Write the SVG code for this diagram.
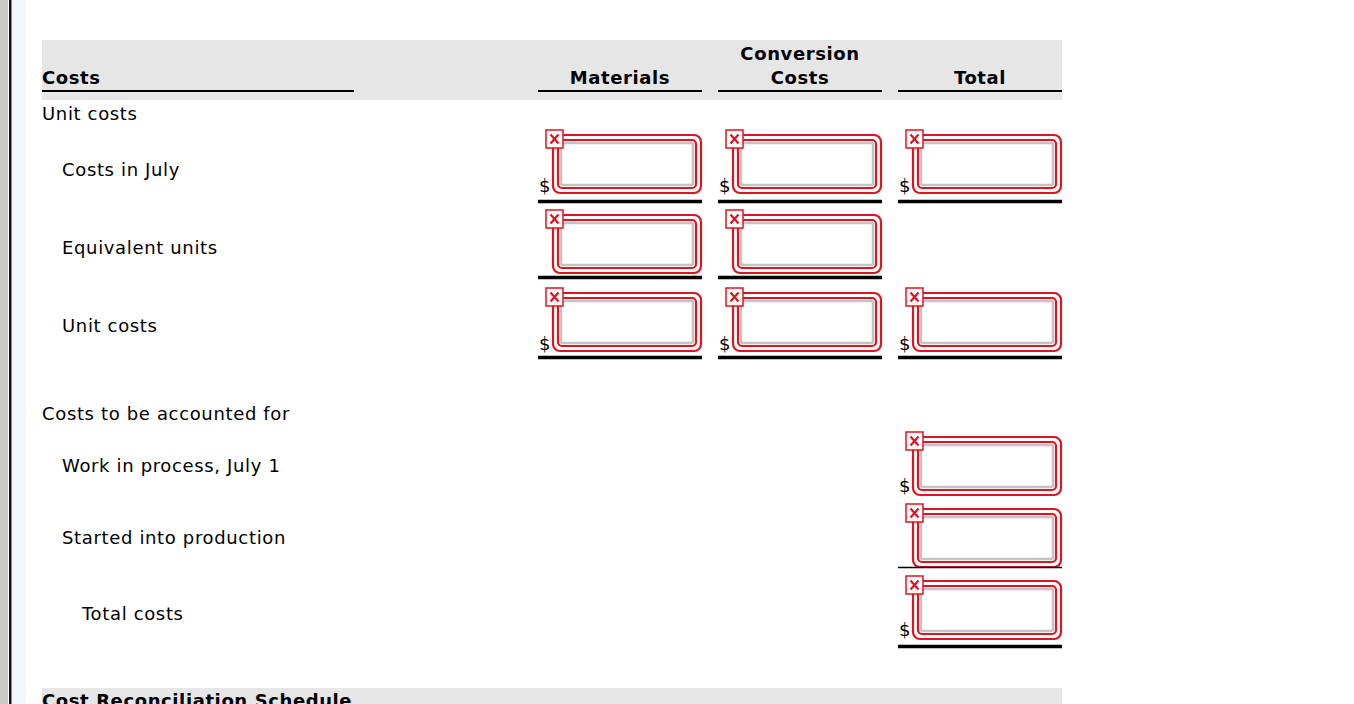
<svg xmlns="http://www.w3.org/2000/svg" xmlns:xlink="http://www.w3.org/1999/xlink" width="1354" height="704" viewBox="0 0 1354 704">
<style>
text{font-family:"DejaVu Sans",Verdana,sans-serif;font-size:18px;fill:#000;letter-spacing:0.65px}
.h{font-weight:bold;letter-spacing:0.6px}
.d{font-size:18px;letter-spacing:0}
.rl{fill:none;stroke:#e0141e;stroke-width:2.2}
.gi{fill:#fff;stroke:#c4c4c4;stroke-width:2.5}
</style>
<defs>
<g id="box">
<rect class="rl" x="15" y="0" width="148" height="58" rx="7"/>
<rect class="rl" x="20" y="5" width="138" height="48" rx="4"/>
<rect class="gi" x="23" y="8" width="132" height="42" rx="2"/>
<rect x="8" y="-5" width="17" height="18" fill="#fff" stroke="#e0141e" stroke-width="1.5"/>
<path d="M12.5 -0.5 L20.5 8.5 M20.5 -0.5 L12.5 8.5" stroke="#e0141e" stroke-width="2.2"/>
</g>
</defs>
<rect width="1354" height="704" fill="#fff"/>
<rect x="0" y="0" width="8" height="704" fill="#c8c8c8"/>
<rect x="9" y="0" width="2.5" height="704" fill="#111"/>
<rect x="12" y="0" width="14" height="704" fill="#f4f7fb"/>
<rect x="42" y="40" width="1020" height="60" fill="#e6e6e6"/>
<g id="headers">
<text class="h" x="42" y="84">Costs</text>
<text class="h" x="620" y="84" text-anchor="middle">Materials</text>
<text class="h" x="800" y="60" text-anchor="middle">Conversion</text>
<text class="h" x="800" y="84" text-anchor="middle">Costs</text>
<text class="h" x="980" y="84" text-anchor="middle">Total</text>
<path d="M42 91H354M538 91H702M718 91H882M898 91H1062" stroke="#000" stroke-width="2"/>
</g>
<g id="labels">
<text x="42" y="120">Unit costs</text>
<text x="62" y="176">Costs in July</text>
<text x="62" y="254">Equivalent units</text>
<text x="62" y="332">Unit costs</text>
<text x="42" y="420">Costs to be accounted for</text>
<text x="62" y="472">Work in process, July 1</text>
<text x="62" y="544">Started into production</text>
<text x="82" y="620">Total costs</text>
</g>
<g id="r1m"><use xlink:href="#box" x="538" y="135"/><text class="d" x="539" y="192">$</text></g>
<g id="r1c"><use xlink:href="#box" x="718" y="135"/><text class="d" x="719" y="192">$</text></g>
<g id="r1t"><use xlink:href="#box" x="898" y="135"/><text class="d" x="899" y="192">$</text></g>
<g id="r2m"><use xlink:href="#box" x="538" y="215"/></g>
<g id="r2c"><use xlink:href="#box" x="718" y="215"/></g>
<g id="r3m"><use xlink:href="#box" x="538" y="293"/><text class="d" x="539" y="350">$</text></g>
<g id="r3c"><use xlink:href="#box" x="718" y="293"/><text class="d" x="719" y="350">$</text></g>
<g id="r3t"><use xlink:href="#box" x="898" y="293"/><text class="d" x="899" y="350">$</text></g>
<g id="wip"><use xlink:href="#box" x="898" y="437"/><text class="d" x="899" y="492">$</text></g>
<g id="started"><use xlink:href="#box" x="898" y="509"/></g>
<g id="total"><use xlink:href="#box" x="898" y="581"/><text class="d" x="899" y="636">$</text></g>
<g id="rules" stroke="#000">
<path d="M538 201.5H702M718 201.5H882M898 201.5H1062M538 277.5H702M718 277.5H882M538 357.5H702M718 357.5H882M898 357.5H1062M898 646.5H1062" stroke-width="3.5"/>
<path d="M898 567.5H1062" stroke-width="1.5"/>
</g>
<rect x="42" y="688" width="1020" height="16" fill="#e6e6e6"/>
<text class="h" x="42" y="707">Cost Reconciliation Schedule</text>
</svg>
